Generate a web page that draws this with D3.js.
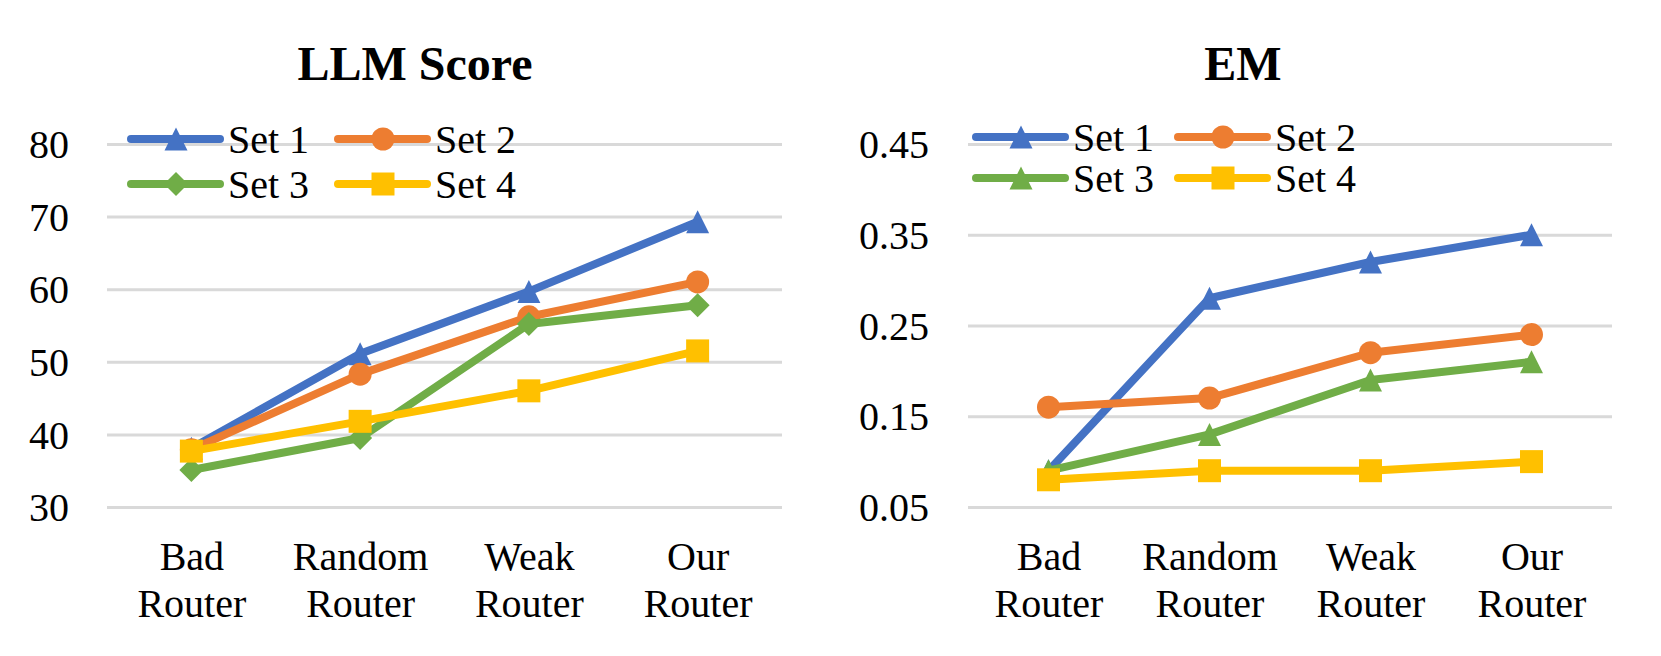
<!DOCTYPE html>
<html>
<head>
<meta charset="utf-8">
<script src="https://cdn.jsdelivr.net/npm/d3@7"></script>
<style>
  html, body { margin: 0; padding: 0; background: #fff; }
  svg { display: block; }
  svg text { font-family: 'Liberation Serif', 'DejaVu Serif', serif !important; fill: #000; }
  .plot-title { font-size: 48px; font-weight: bold; }
  .tick text { font-size: 40px; }
  .legend text { font-size: 40px; }
  .grid .tick line { stroke: #d9d9d9; stroke-width: 3px; }
</style>
</head>
<body>
<div id="chart"></div>
<script>
'use strict';

var categories = ['Bad Router', 'Random Router', 'Weak Router', 'Our Router'];
var seriesNames = ['Set 1', 'Set 2', 'Set 3', 'Set 4'];

// LLM Score panel
var llmTicks = [30, 40, 50, 60, 70, 80];
var llmSet1 = [38.1, 51.1, 59.7, 69.3];
var llmSet2 = [37.9, 48.3, 56.2, 61.0];
var llmSet3 = [35.1, 39.5, 55.2, 57.8];
var llmSet4 = [37.7, 41.8, 46.0, 51.5];

// EM panel
var emTicks = [0.05, 0.15, 0.25, 0.35, 0.45];
var emSet1 = [0.09, 0.28, 0.32, 0.35];
var emSet2 = [0.16, 0.17, 0.22, 0.24];
var emSet3 = [0.09, 0.13, 0.19, 0.21];
var emSet4 = [0.08, 0.09, 0.09, 0.10];


var WIDTH = 1661,
    HEIGHT = 656,
    FONT = "'Liberation Serif', 'DejaVu Serif', serif",
    COLORS = ['#4472c4', '#ed7d31', '#70ad47', '#ffc000'];

// marker paths, centered on bounding box
var MARKERS = {
  triangle: 'M0,-11.5L11.5,11.5L-11.5,11.5Z',
  circle: 'M11.5,0A11.5,11.5 0 1,1 -11.5,0A11.5,11.5 0 1,1 11.5,0Z',
  diamond: 'M0,-12L12,0L0,12L-12,0Z',
  square: 'M-11.5,-11.5H11.5V11.5H-11.5Z'
};

var svg = d3.select('#chart').append('svg')
    .attr('width', WIDTH)
    .attr('height', HEIGHT)
    .attr('viewBox', '0 0 ' + WIDTH + ' ' + HEIGHT)
    .attr('font-family', FONT);


var drawPanel = function (options) {
  var g,
      legend,
      line,
      series,
      x,
      y;

  g = svg.append('g');

  x = d3.scalePoint()
      .domain(categories)
      .range([options.left, options.right])
      .padding(0.5);

  y = d3.scaleLinear()
      .domain(options.domain)
      .range([507, 144]);

  // gridlines with tick labels
  g.append('g')
      .attr('class', 'grid')
      .attr('transform', 'translate(' + options.left + ',0)')
      .call(d3.axisLeft(y)
          .tickValues(options.ticks)
          .tickSize(-(options.right - options.left))
          .tickPadding(options.left - options.labelRight)
          .tickFormat(options.format))
      .call(function (a) {
        a.attr('font-family', FONT).attr('font-size', null);
        a.select('.domain').remove();
        a.selectAll('.tick text').attr('dy', '0.34em');
      });

  // category axis, two line labels
  g.append('g')
      .attr('transform', 'translate(0,507)')
      .call(d3.axisBottom(x).tickSize(0))
      .call(function (a) {
        a.attr('font-family', FONT).attr('font-size', null);
        a.select('.domain').remove();
        a.selectAll('.tick text')
            .attr('y', 0)
            .attr('dy', null)
            .text(null)
            .selectAll('tspan')
            .data(function (d) { return d.split(' '); })
            .enter().append('tspan')
            .attr('x', 0)
            .attr('y', function (d, i) { return 63 + i * 47; })
            .text(function (d) { return d; });
      });

  g.append('text')
      .attr('class', 'plot-title')
      .attr('text-anchor', 'middle')
      .attr('x', options.titleX)
      .attr('y', 80)
      .text(options.title);

  series = options.values.map(function (v, i) {
    return {
      name: seriesNames[i],
      color: COLORS[i],
      marker: options.markers[i],
      points: v.map(function (d, j) { return {c: categories[j], v: d}; })
    };
  });

  line = d3.line()
      .x(function (d) { return x(d.c); })
      .y(function (d) { return y(d.v); });

  series.forEach(function (s) {
    var sg = g.append('g');
    sg.append('path')
        .attr('d', line(s.points))
        .attr('fill', 'none')
        .attr('stroke', s.color)
        .attr('stroke-width', 8)
        .attr('stroke-linejoin', 'round')
        .attr('stroke-linecap', 'round');
    sg.selectAll('.marker')
        .data(s.points)
        .enter().append('path')
        .attr('class', 'marker')
        .attr('d', MARKERS[s.marker])
        .attr('fill', s.color)
        .attr('transform', function (d) {
          return 'translate(' + x(d.c) + ',' + y(d.v) + ')';
        });
  });

  // legend, 2 x 2
  legend = g.append('g').attr('class', 'legend');
  series.forEach(function (s, i) {
    var lx = options.legendX[i % 2],
        ly = options.legendY[Math.floor(i / 2)],
        item = legend.append('g')
            .attr('transform', 'translate(' + lx + ',' + ly + ')');
    item.append('line')
        .attr('x1', 0)
        .attr('x2', 89)
        .attr('stroke', s.color)
        .attr('stroke-width', 8)
        .attr('stroke-linecap', 'round');
    item.append('path')
        .attr('d', MARKERS[s.marker])
        .attr('fill', s.color)
        .attr('transform', 'translate(45,0)');
    item.append('text')
        .attr('x', 97)
        .attr('y', 14)
        .text(s.name);
  });
};


drawPanel({
  title: 'LLM Score',
  titleX: 415,
  left: 107,
  right: 782,
  labelRight: 69,
  domain: [30, 80],
  ticks: llmTicks,
  format: d3.format('d'),
  values: [llmSet1, llmSet2, llmSet3, llmSet4],
  markers: ['triangle', 'circle', 'diamond', 'square'],
  legendX: [131, 338],
  legendY: [139, 184]
});

drawPanel({
  title: 'EM',
  titleX: 1243,
  left: 968,
  right: 1612,
  labelRight: 929,
  domain: [0.05, 0.45],
  ticks: emTicks,
  format: d3.format('.2f'),
  values: [emSet1, emSet2, emSet3, emSet4],
  markers: ['triangle', 'circle', 'triangle', 'square'],
  legendX: [976, 1178],
  legendY: [137, 178]
});
</script>
</body>
</html>
